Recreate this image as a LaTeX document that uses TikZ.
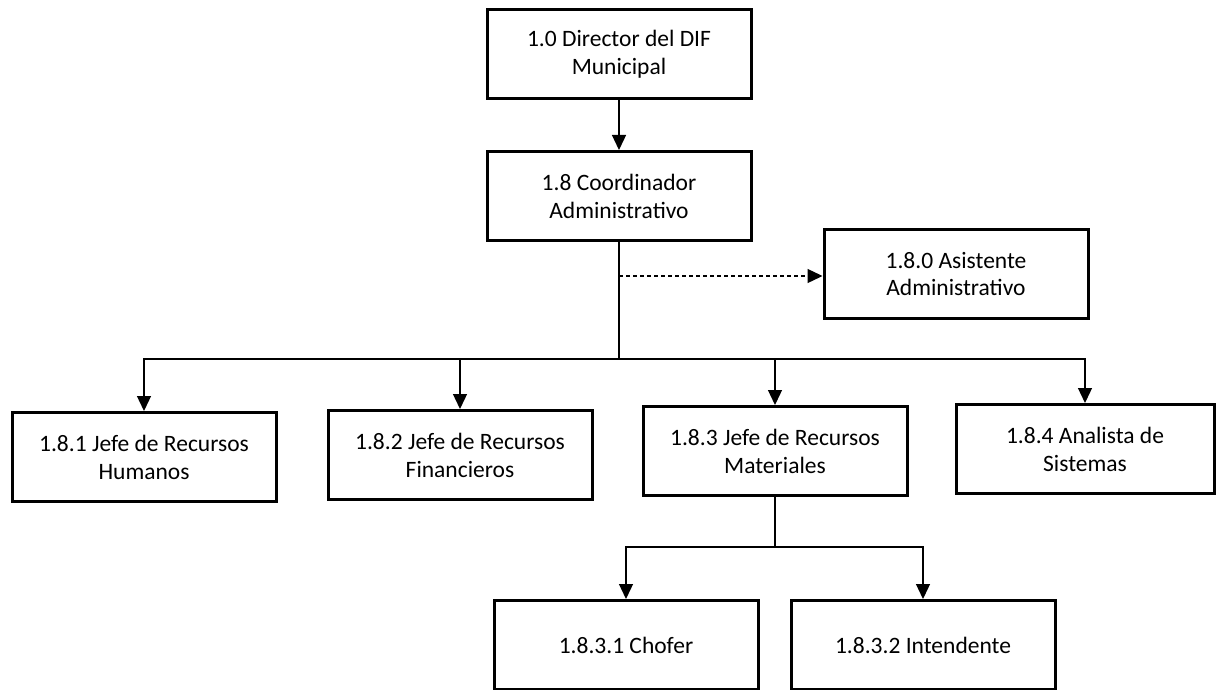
\documentclass[tikz,border=0pt]{standalone}
\usepackage{fontspec}
\setmainfont{Carlito}
\usepackage{tikz}
\usetikzlibrary{arrows.meta, positioning}

\tikzset{
  box/.style={draw, line width=3pt, minimum width=264pt, minimum height=89pt,
    align=center, inner sep=0pt, font=\fontsize{23.5}{28}\selectfont},
  link/.style={line width=1.3pt},
  >={Triangle[length=15pt,width=14pt]}
}

\begin{document}
\begin{tikzpicture}[x=1pt, y=-1pt]

        \useasboundingbox (0,0) rectangle (1218,690);

        % top of the chart
        \node[box] (Director) at (619,54) {1.0 Director del DIF\\Municipal};
        \node[box] (Coordinador) at (619,196) {1.8 Coordinador\\Administrativo};
        \node[box] (Asistente) at (956,274) {1.8.0 Asistente\\Administrativo};

        % second level
        \node[box] (RecHumanos) at (144,457) {1.8.1 Jefe de Recursos\\Humanos};
        \node[box] (RecFinancieros) at (460,455) {1.8.2 Jefe de Recursos\\Financieros};
        \node[box] (RecMateriales) at (775,451) {1.8.3 Jefe de Recursos\\Materiales};
        \node[box, minimum width=258pt] (Analista) at (1085,449) {1.8.4 Analista de\\Sistemas};

        % third level
        \node[box] (Chofer) at (626,645) {1.8.3.1 Chofer};
        \node[box] (Intendente) at (923,645) {1.8.3.2 Intendente};

        \coordinate (asist) at (619,276);
        \coordinate (split) at (619,359);
        \coordinate (splitmat) at (775,547);

        \draw[->,link] (Director) -- (Coordinador);
        \draw[link] (Coordinador) -- (split);
        \draw[->,link,dash pattern=on 4pt off 3pt] (asist) -- (asist -| Asistente.west);

        \draw[->,link] (split) -| (RecHumanos);
        \draw[->,link] (split) -| (RecFinancieros);
        \draw[->,link] (split) -| (RecMateriales);
        \draw[->,link] (split) -| (Analista);

        \draw[link] (RecMateriales) -- (splitmat);
        \draw[->,link] (splitmat) -| (Chofer);
        \draw[->,link] (splitmat) -| (Intendente);

      \end{tikzpicture}
\end{document}
